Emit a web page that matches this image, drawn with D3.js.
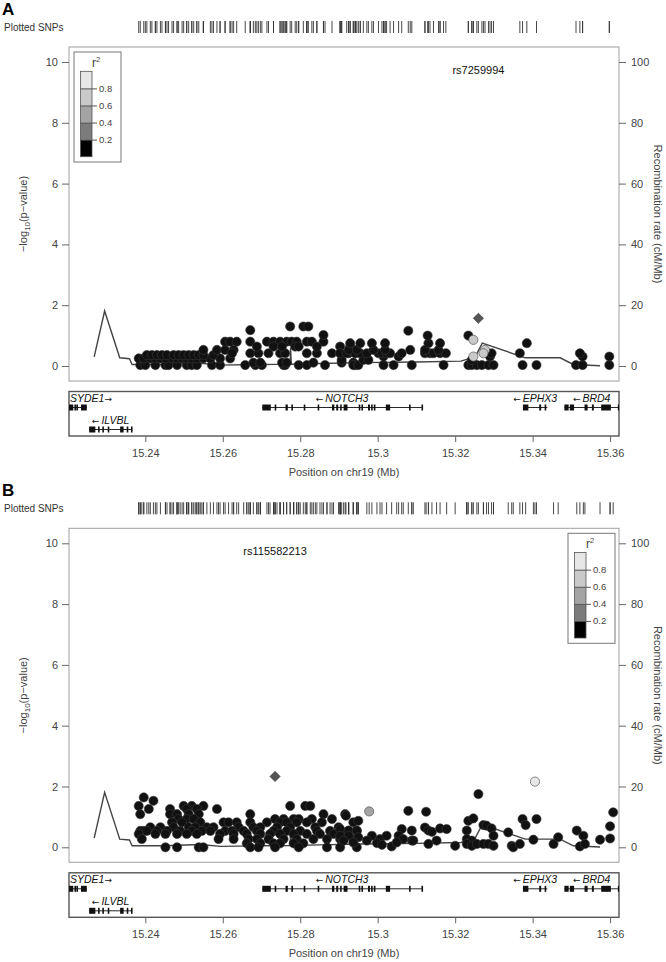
<!DOCTYPE html>
<html>
<head>
<meta charset="utf-8">
<script src="https://cdn.jsdelivr.net/npm/d3@7"></script>
<style>
  body { margin: 0; background: #fff; }
  svg { font-family: "Liberation Sans", Arial, sans-serif; }
</style>
</head>
<body>
<div id="chart"></div>
<script>
// region shown (Mb)
var xDomain = [15.2203, 15.3623];
var xTicks = [15.24, 15.26, 15.28, 15.3, 15.32, 15.34, 15.36];
var pTicks = [0, 2, 4, 6, 8, 10];
var recTicks = [0, 20, 40, 60, 80, 100];
var r2Breaks = [0.2, 0.4, 0.6, 0.8];
var r2Colors = ["#000000", "#7b7b7b", "#a4a4a4", "#c9c9c9", "#e7e7e7"];

// recombination rate (cM/Mb), same in both panels
var recombPos  = [15.2268, 15.2295, 15.2334, 15.2359, 15.2366, 15.2450, 15.2542, 15.2594, 15.2700, 15.2774, 15.2775, 15.2777, 15.2850, 15.2955, 15.3100, 15.3215, 15.3252, 15.3270, 15.3381, 15.3471, 15.3505, 15.3574];
var recombRate = [3.0, 18.1, 2.7, 2.4, 0.5, 0.5, 0.9, 0.3, 0.5, 0.6, 6.0, 0.6, 0.8, 1.1, 1.3, 1.6, 3.1, 7.5, 2.7, 2.7, 0.5, 0.1];

// panel A : [position, -log10 p], r2 < 0.2
var snpsA = [
 [15.2387,0.03],[15.2400,0.03],[15.2426,0.03],[15.2452,0.03],[15.2460,0.03],[15.2482,0.03],[15.2507,0.03],[15.2520,0.03],[15.2533,0.03],[15.2572,0.03],
 [15.2593,0.03],[15.2658,0.03],[15.2684,0.03],[15.2701,0.03],[15.2757,0.03],[15.2761,0.03],[15.2796,0.03],[15.2817,0.03],[15.2864,0.03],[15.2942,0.03],
 [15.2383,0.25],[15.2396,0.25],[15.2413,0.25],[15.2426,0.25],[15.2439,0.25],[15.2452,0.25],[15.2469,0.25],[15.2482,0.25],[15.2495,0.25],[15.2507,0.25],
 [15.2520,0.25],[15.2533,0.25],[15.2550,0.25],[15.2568,0.25],[15.2593,0.25],[15.2619,0.25],
 [15.2404,0.36],[15.2417,0.36],[15.2430,0.36],[15.2443,0.36],[15.2456,0.36],[15.2473,0.36],[15.2486,0.36],[15.2499,0.36],[15.2512,0.36],[15.2525,0.36],
 [15.2538,0.36],[15.2550,0.36],[15.2576,0.36],
 [15.2550,0.53],[15.2585,0.53],[15.2606,0.53],[15.2628,0.53],
 [15.2624,0.42],[15.2671,0.42],[15.2692,0.42],[15.2718,0.42],[15.2748,0.42],[15.2761,0.42],[15.2817,0.42],[15.2843,0.42],[15.2882,0.42],[15.2903,0.42],
 [15.2925,0.42],[15.2942,0.42],
 [15.2606,0.8],[15.2619,0.8],[15.2636,0.8],[15.2671,0.8],[15.2714,0.8],[15.2731,0.8],[15.2748,0.8],[15.2765,0.8],[15.2778,0.8],[15.2791,0.8],
 [15.2817,0.8],[15.2830,0.8],[15.2860,0.8],[15.2860,1.02],[15.2671,1.18],[15.2774,1.3],[15.2808,1.3],[15.2821,1.3],
 [15.2679,0.11],[15.2697,0.11],[15.2753,0.11],[15.2765,0.11],[15.2834,0.11],[15.2907,0.11],[15.2937,0.11],
 [15.2688,0.64],[15.2731,0.64],[15.2753,0.64],[15.2787,0.64],[15.2796,0.64],[15.2843,0.64],[15.2903,0.64],[15.2929,0.64],
 [15.2937,0.03],[15.2950,0.03],[15.3015,0.03],[15.3041,0.03],[15.3088,0.03],[15.3170,0.03],[15.3234,0.03],[15.3243,0.03],[15.3256,0.03],[15.3269,0.03],
 [15.3286,0.03],[15.3299,0.03],[15.3374,0.03],[15.3410,0.03],[15.3512,0.03],[15.3529,0.03],[15.3598,0.03],
 [15.2907,0.2],[15.2963,0.2],[15.2976,0.2],[15.3243,0.2],
 [15.3015,0.31],[15.3054,0.31],[15.3290,0.31],[15.3529,0.31],[15.3598,0.31],
 [15.2903,0.42],[15.2920,0.42],[15.2942,0.42],[15.2955,0.42],[15.2972,0.42],[15.3002,0.42],[15.3011,0.42],[15.3023,0.42],[15.3032,0.42],[15.3062,0.42],
 [15.3122,0.42],[15.3135,0.42],[15.3144,0.42],[15.3161,0.42],[15.3176,0.42],[15.3294,0.42],[15.3367,0.42],[15.3522,0.42],
 [15.2925,0.53],[15.2946,0.53],[15.2989,0.53],[15.3019,0.53],[15.3084,0.53],[15.3122,0.53],[15.3157,0.53],
 [15.2929,0.75],[15.2955,0.75],[15.2985,0.75],[15.3019,0.75],[15.3131,0.75],[15.3161,0.75],[15.3385,0.75],
 [15.3129,1.0],[15.3234,1.0],[15.3079,1.16]
];
// panel A : SNPs in LD with the lead [position, -log10 p, r2]
var ldA = [[15.3247,0.86,0.7],[15.3247,0.31,0.75],[15.3277,0.53,0.7],[15.3273,0.42,0.75]];
var leadA = {name: "rs7259994", pos: 15.3260, logp: 1.57};

// panel B
var snpsB = [
 [15.2396,1.64],[15.2421,1.53],
 [15.2383,1.36],[15.2499,1.36],[15.2520,1.36],[15.2550,1.36],[15.2774,1.36],[15.2813,1.36],[15.2826,1.36],
 [15.2409,1.26],[15.2464,1.26],[15.2507,1.26],[15.2533,1.26],[15.2585,1.26],
 [15.2387,1.09],[15.2464,1.09],[15.2482,1.09],[15.2512,1.09],[15.2538,1.09],[15.2671,1.09],[15.2860,1.09],[15.2916,1.09],
 [15.2486,0.93],[15.2507,0.93],[15.2525,0.93],[15.2735,0.93],[15.2757,0.93],[15.2783,0.93],[15.2796,0.93],[15.2830,0.93],[15.2882,0.93],
 [15.2469,0.82],[15.2495,0.82],[15.2542,0.82],[15.2602,0.82],[15.2615,0.82],[15.2636,0.82],[15.2671,0.82],[15.2714,0.82],[15.2748,0.82],[15.2765,0.82],
 [15.2791,0.82],[15.2817,0.82],[15.2856,0.82],[15.2937,0.82],
 [15.2413,0.66],[15.2439,0.66],[15.2473,0.66],[15.2512,0.66],[15.2529,0.66],[15.2559,0.66],[15.2576,0.66],[15.2641,0.66],[15.2679,0.66],[15.2697,0.66],
 [15.2740,0.66],[15.2774,0.66],[15.2839,0.66],[15.2899,0.66],
 [15.2387,0.54],[15.2396,0.54],[15.2404,0.54],[15.2430,0.54],[15.2456,0.54],[15.2490,0.54],[15.2520,0.54],[15.2546,0.54],[15.2568,0.54],[15.2606,0.54],
 [15.2624,0.54],[15.2654,0.54],[15.2688,0.54],[15.2731,0.54],[15.2765,0.54],[15.2800,0.54],[15.2843,0.54],[15.2877,0.54],[15.2925,0.54],[15.2946,0.54],
 [15.2383,0.44],[15.2426,0.44],[15.2452,0.44],[15.2482,0.44],[15.2507,0.44],[15.2533,0.44],[15.2593,0.44],[15.2628,0.44],[15.2662,0.44],[15.2697,0.44],
 [15.2722,0.44],[15.2748,0.44],[15.2783,0.44],[15.2817,0.44],[15.2851,0.44],[15.2886,0.44],[15.2907,0.44],
 [15.2391,0.27],[15.2589,0.27],[15.2628,0.27],[15.2667,0.27],[15.2688,0.27],[15.2718,0.27],[15.2757,0.27],[15.2791,0.27],[15.2834,0.27],[15.2869,0.27],
 [15.2903,0.27],[15.2937,0.27],
 [15.2662,0.13],[15.2697,0.13],[15.2731,0.13],[15.2748,0.13],[15.2783,0.13],[15.2808,0.13],
 [15.2452,0.0],[15.2482,0.0],[15.2538,0.0],[15.2550,0.0],[15.2671,0.0],[15.2692,0.0],[15.2735,0.0],[15.2796,0.0],[15.2869,0.0],[15.2903,0.0],[15.2946,0.0],
 [15.3260,1.75],[15.2918,1.04],[15.3079,1.20],[15.3125,1.17],[15.3608,1.15],[15.2950,0.87],[15.3234,0.87],[15.3247,0.95],[15.3374,0.93],[15.3410,0.93],
 [15.3382,0.73],[15.3273,0.73],[15.3281,0.71],[15.3294,0.62],[15.3337,0.49],[15.2903,0.60],[15.2925,0.55],[15.2946,0.55],[15.3062,0.60],[15.3088,0.55],
 [15.3122,0.65],[15.3131,0.55],[15.3140,0.51],[15.3161,0.62],[15.3178,0.60],[15.3230,0.55],[15.3514,0.55],[15.3600,0.69],
 [15.2903,0.38],[15.2925,0.38],[15.2950,0.33],[15.2985,0.38],[15.3006,0.27],[15.3023,0.38],[15.3054,0.38],[15.3066,0.27],[15.3088,0.22],[15.3152,0.22],
 [15.3230,0.27],[15.3243,0.22],[15.3299,0.38],[15.3531,0.38],[15.3600,0.29],
 [15.2912,0.22],[15.2937,0.16],[15.2972,0.22],[15.2998,0.14],[15.3011,0.08],[15.3036,0.03],[15.3049,0.16],[15.3092,0.22],[15.3131,0.11],[15.3200,0.05],
 [15.3230,0.11],[15.3243,0.05],[15.3256,0.11],[15.3273,0.11],[15.3286,0.11],[15.3299,0.05],[15.3346,0.05],[15.3350,0.0],[15.3367,0.11],[15.3402,0.25],
 [15.3454,0.11],[15.3466,0.33],[15.3522,0.03],[15.3535,0.11],[15.3574,0.25]
];
var ldB = [[15.2978,1.18,0.5],[15.3406,2.16,0.9]];
var leadB = {name: "rs115582213", pos: 15.2735, logp: 2.33};

// genes: name, start, end, strand, row, exons [start, end]
var genes = [
  {name: "SYDE1", start: 15.2180, end: 15.2249, strand: "+", row: 0,
   exons: [[15.2195,15.2214],[15.2217,15.2219],[15.2222,15.2224],[15.2234,15.2249]]},
  {name: "ILVBL", start: 15.2255, end: 15.2366, strand: "-", row: 1,
   exons: [[15.2255,15.2271],[15.2278,15.2280],[15.2289,15.2291],[15.2303,15.2305],[15.2335,15.2344],[15.2352,15.2354],[15.2363,15.2366]]},
  {name: "NOTCH3", start: 15.2702, end: 15.3114, strand: "-", row: 0,
   exons: [[15.2702,15.2724],[15.2734,15.2736],[15.2762,15.2768],[15.2777,15.2779],[15.2809,15.2813],[15.2845,15.2847],[15.2882,15.2888],
           [15.2893,15.2898],[15.2903,15.2905],[15.2912,15.2922],[15.2951,15.2955],[15.2958,15.2960],[15.2975,15.2980],[15.2983,15.2985],
           [15.2990,15.2992],[15.3021,15.3032],[15.3081,15.3083],[15.3113,15.3115]]},
  {name: "EPHX3", start: 15.3375, end: 15.3438, strand: "-", row: 0,
   exons: [[15.3375,15.3389],[15.3417,15.3422],[15.3431,15.3435]]},
  {name: "BRD4", start: 15.3482, end: 15.3640, strand: "-", row: 0,
   exons: [[15.3482,15.3493],[15.3496,15.3507],[15.3534,15.3542],[15.3553,15.3558],[15.3577,15.3602],[15.3620,15.3640]]}
];

var W = 666, H = 962;
var svg = d3.select("#chart").append("svg").attr("width", W).attr("height", H);

var x = d3.scaleLinear().domain(xDomain).range([69, 619]);

svg.append("clipPath").attr("id", "geneclipA").append("rect")
  .attr("x", 69).attr("y", 391).attr("width", 550).attr("height", 46);
svg.append("clipPath").attr("id", "geneclipB").append("rect")
  .attr("x", 69).attr("y", 391 + 481.3).attr("width", 550).attr("height", 46);

function color(r2) {
  return r2Colors[d3.bisect(r2Breaks, r2)];
}

function drawPanel(oy, letter, snps, ld, lead, legendX, clipId) {
  var g = svg.append("g").attr("transform", "translate(0," + oy + ")");
  var y = d3.scaleLinear().domain([0, 10]).range([366, 62]);
  var yr = d3.scaleLinear().domain([0, 100]).range([366, 62]);

  g.append("text").attr("x", 2).attr("y", 15).attr("font-size", 17).attr("font-weight", "bold")
    .text(letter);

  g.append("text").attr("x", 4).attr("y", 30.5).attr("font-size", 10).attr("fill", "#333").text("Plotted SNPs");

  var allPos = snps.map(function(d) { return d[0]; })
    .concat(ld.map(function(d) { return d[0]; })).concat([lead.pos]);
  g.selectAll(".rug").data(allPos).enter().append("line")
    .attr("x1", function(d) { return x(d); }).attr("x2", function(d) { return x(d); })
    .attr("y1", 21).attr("y2", 33).attr("stroke", "#333").attr("stroke-width", 0.9);

  // plot frame
  g.append("rect").attr("x", 69).attr("y", 47).attr("width", 550).attr("height", 334)
    .attr("fill", "none").attr("stroke", "#a0a0a0").attr("stroke-width", 1);

  var ax = g.append("g").attr("transform", "translate(69,0)")
    .call(d3.axisLeft(y).tickValues(pTicks).tickSize(7).tickPadding(4));
  var axr = g.append("g").attr("transform", "translate(619,0)")
    .call(d3.axisRight(yr).tickValues(recTicks).tickSize(7).tickPadding(5));
  [ax, axr].forEach(function(a) {
    a.select(".domain").remove();
    a.selectAll("line").attr("stroke", "#666");
    a.selectAll("text").attr("font-size", 11).attr("fill", "#444")
      .attr("font-family", "Liberation Sans, Arial");
  });

  var yl = g.append("text").attr("transform", "translate(27,214) rotate(-90)")
    .attr("text-anchor", "middle").attr("font-size", 11).attr("fill", "#444");
  yl.append("tspan").text("\u2212log");
  yl.append("tspan").attr("font-size", 8).attr("dy", 3).text("10");
  yl.append("tspan").attr("dy", -3).text("(p\u2212value)");

  g.append("text").attr("transform", "translate(654,214) rotate(90)")
    .attr("text-anchor", "middle").attr("font-size", 11).attr("fill", "#444")
    .text("Recombination rate (cM/Mb)");

  // recombination line
  var line = d3.line().x(function(d) { return x(d[0]); }).y(function(d) { return yr(d[1]); });
  g.append("path").datum(d3.zip(recombPos, recombRate)).attr("d", line)
    .attr("fill", "none").attr("stroke", "#444").attr("stroke-width", 1.4);

  g.selectAll(".snp").data(snps).enter().append("circle")
    .attr("cx", function(d) { return x(d[0]); }).attr("cy", function(d) { return y(d[1]); })
    .attr("r", 4.6).attr("fill", "#111").attr("stroke", "#3a3a3a").attr("stroke-width", 0.6);

  g.selectAll(".ld").data(ld).enter().append("circle")
    .attr("cx", function(d) { return x(d[0]); }).attr("cy", function(d) { return y(d[1]); })
    .attr("r", 4.6).attr("fill", function(d) { return color(d[2]); })
    .attr("stroke", "#555").attr("stroke-width", 0.7);

  g.append("path").attr("d", d3.symbol().type(d3.symbolSquare).size(52))
    .attr("transform", "translate(" + x(lead.pos) + "," + y(lead.logp) + ") rotate(45)")
    .attr("fill", "#555").attr("stroke", "#333").attr("stroke-width", 0.6);

  g.append("text").attr("x", x(lead.pos)).attr("y", 74).attr("text-anchor", "middle")
    .attr("font-size", 11).attr("fill", "#111").text(lead.name);

  // r2 legend
  var lg = g.append("g").attr("transform", "translate(" + legendX + ",0)");
  lg.append("rect").attr("x", 0).attr("y", 52).attr("width", 47).attr("height", 110)
    .attr("fill", "#fff").attr("stroke", "#777").attr("stroke-width", 1);
  var ly = d3.scaleLinear().domain([0, 1]).range([156.7, 71.3]);
  var bins = [0, 0.2, 0.4, 0.6, 0.8];
  lg.selectAll(".bin").data(bins).enter().append("rect")
    .attr("x", 6.5).attr("width", 11.5)
    .attr("y", function(d) { return ly(d + 0.2); })
    .attr("height", function(d) { return ly(d) - ly(d + 0.2); })
    .attr("fill", function(d) { return color(d + 0.1); });
  lg.append("rect").attr("x", 6.5).attr("width", 11.5).attr("y", ly(1)).attr("height", ly(0) - ly(1))
    .attr("fill", "none").attr("stroke", "#555").attr("stroke-width", 0.8);
  var la = lg.append("g").attr("transform", "translate(18,0)")
    .call(d3.axisRight(ly).tickValues(r2Breaks).tickSize(5).tickPadding(2));
  la.select(".domain").remove();
  la.selectAll("line").attr("stroke", "#555").attr("x1", -11.5);
  la.selectAll("text").attr("font-size", 9.5).attr("fill", "#444").attr("font-family", "Liberation Sans, Arial");
  var rt = lg.append("text").attr("x", 22).attr("y", 67).attr("text-anchor", "middle")
    .attr("font-size", 12).attr("fill", "#444");
  rt.append("tspan").text("r");
  rt.append("tspan").attr("font-size", 7.5).attr("dy", -5).text("2");

  // gene track
  g.append("rect").attr("x", 69).attr("y", 391.5).attr("width", 550).attr("height", 44.5)
    .attr("fill", "none").attr("stroke", "#555").attr("stroke-width", 1.4);
  var gg = g.append("g").attr("clip-path", "url(#" + clipId + ")").attr("transform", "translate(0," + (-oy) + ")")
    .append("g").attr("transform", "translate(0," + oy + ")");
  var rowY = [407.5, 429.5];
  genes.forEach(function(gn) {
    var cy = rowY[gn.row];
    gg.append("line").attr("x1", x(gn.start)).attr("x2", x(gn.end)).attr("y1", cy).attr("y2", cy)
      .attr("stroke", "#111").attr("stroke-width", 0.9);
    gg.selectAll(null).data(gn.exons).enter().append("rect")
      .attr("x", function(d) { return x(d[0]); })
      .attr("width", function(d) { return Math.max(1.6, x(d[1]) - x(d[0])); })
      .attr("y", cy - 3).attr("height", 6).attr("fill", "#111");
    var lx = (x(Math.max(gn.start, xDomain[0])) + x(Math.min(gn.end, xDomain[1]))) / 2;
    var anchor = "middle";
    if (gn.start < xDomain[0]) { lx = 70; anchor = "start"; }
    var t = g.append("text").attr("x", lx).attr("y", cy - 6).attr("text-anchor", anchor)
      .attr("font-size", 10.5).attr("font-style", "italic").attr("fill", "#111");
    if (gn.strand === "+") {
      t.append("tspan").text(gn.name);
      t.append("tspan").attr("font-family", "DejaVu Sans").attr("font-style", "normal").attr("font-size", 9).text("\u2192");
    } else {
      t.append("tspan").attr("font-family", "DejaVu Sans").attr("font-style", "normal").attr("font-size", 9).text("\u2190");
      t.append("tspan").attr("dx", 2).text(gn.name);
    }
  });

  var xa = g.append("g").attr("transform", "translate(0,436)")
    .call(d3.axisBottom(x).tickValues(xTicks).tickFormat(d3.format("")).tickSize(6).tickPadding(7));
  xa.select(".domain").remove();
  xa.selectAll("line").attr("stroke", "#666");
  xa.selectAll("text").attr("font-size", 11).attr("fill", "#444").attr("font-family", "Liberation Sans, Arial");

  g.append("text").attr("x", 344).attr("y", 476).attr("text-anchor", "middle")
    .attr("font-size", 11).attr("fill", "#444").text("Position on chr19 (Mb)");
}

drawPanel(0, "A", snpsA, ldA, leadA, 74, "geneclipA");
drawPanel(481.3, "B", snpsB, ldB, leadB, 568, "geneclipB");
</script>
</body>
</html>
